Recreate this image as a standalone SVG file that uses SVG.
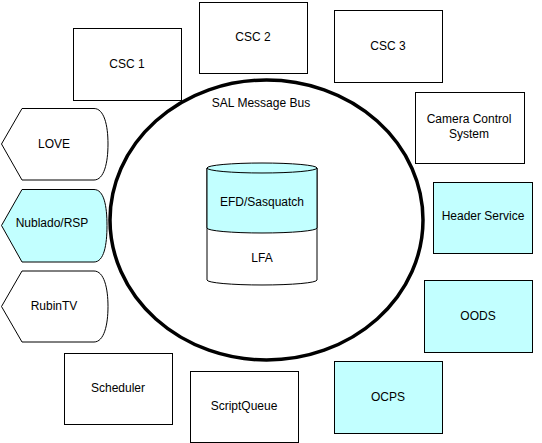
<svg xmlns="http://www.w3.org/2000/svg" width="542" height="443" viewBox="0 0 542 443">
<style>
  .box{fill:#ffffff;stroke:#000000;stroke-width:1}
  .cyan{fill:#c2ffff}
  .lbl{font-family:"Liberation Sans",Arial,sans-serif;font-size:12px;fill:#000000;text-anchor:middle}
</style>
<rect x="0" y="0" width="542" height="443" fill="#ffffff"/>
<g id="connectors"></g>
<g id="sal-bus">
  <ellipse cx="266.5" cy="220" rx="156.5" ry="140" fill="#ffffff" stroke="#000000" stroke-width="3.5"/>
  <text class="lbl" x="261" y="107">SAL Message Bus</text>
</g>
<g id="lfa">
  <path class="box" d="M207,168 L207,280 A55,5 0 0 0 317,280 L317,168"/>
  <text class="lbl" x="262" y="262">LFA</text>
</g>
<g id="efd">
  <path class="box cyan" d="M207,168 A55,5 0 0 1 317,168 L317,228 A55,5 0 0 1 207,228 Z"/>
  <path fill="none" stroke="#000000" stroke-width="1" d="M207,168 A55,5 0 0 0 317,168"/>
  <text class="lbl" x="262" y="206">EFD/Sasquatch</text>
</g>
<g id="csc1"><rect class="box" x="73.5" y="28.5" width="108" height="72"/><text class="lbl" x="127" y="68">CSC 1</text></g>
<g id="csc2"><rect class="box" x="199.5" y="2.5" width="108" height="71"/><text class="lbl" x="253" y="41">CSC 2</text></g>
<g id="csc3"><rect class="box" x="334.5" y="10.5" width="108" height="72"/><text class="lbl" x="388" y="50">CSC 3</text></g>
<g id="ccs"><rect class="box" x="415.5" y="92.5" width="109" height="71"/><text class="lbl" x="469" y="123">Camera Control</text><text class="lbl" x="469" y="138">System</text></g>
<g id="header-service"><rect class="box cyan" x="433.5" y="182.5" width="99" height="71"/><text class="lbl" x="483" y="220">Header Service</text></g>
<g id="oods"><rect class="box cyan" x="424.5" y="280.5" width="108" height="72"/><text class="lbl" x="478" y="320">OODS</text></g>
<g id="ocps"><rect class="box cyan" x="334.5" y="361.5" width="108" height="72"/><text class="lbl" x="388" y="401">OCPS</text></g>
<g id="scriptqueue"><rect class="box" x="190.5" y="371.5" width="108" height="71"/><text class="lbl" x="244" y="410">ScriptQueue</text></g>
<g id="scheduler"><rect class="box" x="64.5" y="353.5" width="108" height="71"/><text class="lbl" x="118" y="392">Scheduler</text></g>
<g id="love">
  <path class="box" d="M22,108.5 L94,108.5 C104,108.5 108,125 108,144 C108,163 104,180 94,180 L22,180 L1.5,144 Z"/>
  <text class="lbl" x="54" y="148">LOVE</text>
</g>
<g id="nublado">
  <path class="box cyan" d="M22,189.5 L94,189.5 C104,189.5 107,206 107,225.5 C107,245 104,262 94,262 L22,262 L1.5,225.5 Z"/>
  <text class="lbl" x="52" y="227">Nublado/RSP</text>
</g>
<g id="rubintv">
  <path class="box" d="M22,271 L94,271 C104,271 108,288 108,306.5 C108,325 104,342 94,342 L22,342 L1.5,306.5 Z"/>
  <text class="lbl" x="54" y="310">RubinTV</text>
</g>
</svg>
